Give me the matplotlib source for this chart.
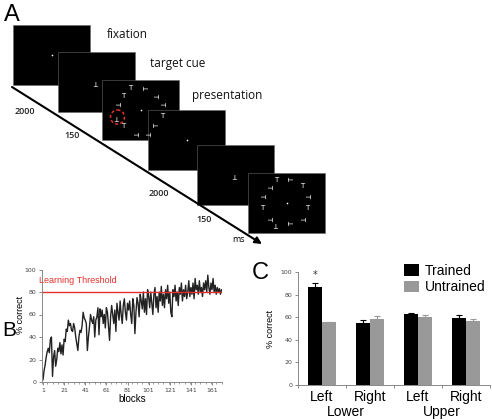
import matplotlib.pyplot as plt
from matplotlib.patches import Rectangle, Circle
from matplotlib.ticker import MultipleLocator

# panel B: percent correct per training block
blocks_pct = [
    2, 10, 15, 22, 27, 30, 26, 38, 40, 5,
    22, 28, 14, 20, 30, 27, 35, 25, 33, 24,
    38, 36, 47, 45, 55, 50, 52, 46, 45, 52,
    48, 40, 34, 28, 40, 46, 44, 50, 62, 57,
    55, 52, 28, 40, 49, 60, 55, 52, 58, 40,
    55, 58, 66, 42, 65, 58, 64, 52, 60, 48,
    66, 62, 50, 37, 58, 68, 60, 52, 64, 45,
    70, 62, 55, 72, 60, 52, 68, 74, 62, 55,
    70, 64, 72, 60, 52, 74, 68, 43, 62, 75,
    70, 58, 78, 72, 65, 80, 62, 74, 60, 82,
    76, 66, 80, 70, 60, 78, 84, 66, 76, 62,
    80, 72, 85, 68, 78, 66, 82, 74, 86, 70,
    80, 62, 58, 82, 76, 86, 72, 80, 68, 84,
    78, 88, 72, 82, 76, 86, 74, 80, 90, 76,
    84, 78, 88, 74, 92, 82, 86, 78, 90, 80,
    84, 76, 88, 82, 90, 80, 95, 84, 78, 88,
    82, 92, 80, 86, 78, 84, 80, 83, 78, 82,
]
threshold = 80
block_ticks = [1, 21, 41, 61, 81, 101, 121, 141, 161]

# panel C
quadrants = ["Left", "Right", "Left", "Right"]
fields = ["Lower", "Upper"]
trained = [87, 54.5, 63, 59.5]
trained_err = [3, 3, 0.5, 2.5]
untrained = [55.5, 58.5, 60, 56.5]
untrained_err = [0.5, 2.5, 2, 2]

# panel A timings
durations = ["2000", "150", "2000", "150"]
screen_names = ["fixation", "target cue", "presentation"]

fig = plt.figure(figsize=(4.92, 4.20), dpi=100)

# ---------- panel A: drawn in pixel coords on an overlay axes
axA = fig.add_axes([0, 0, 1, 1])
axA.set_xlim(0, 492)
axA.set_ylim(420, 0)
axA.axis("off")

screens = [(13, 25), (58, 52), (102, 80), (148, 110), (197, 145), (248, 173)]
sw, sh = 77, 60
for (x, y) in screens:
    axA.add_patch(Rectangle((x, y), sw, sh, facecolor="black", edgecolor="#666", lw=0.4))

# search array: (dx, dy, rotation)
array1 = [(-10, -22, 0), (7, -21, 90), (-17, -14, 0), (15, -15, 270),
          (-23, -7, 270), (22, -7, 270), (-23, 7, 180), (22, 6, 0),
          (-17, 16, 0), (17, 16, 90), (-5, 23, 270), (7, 23, 270)]
array2 = [(-10, -23, 0), (6, -23, 90), (-17, -17, 270), (16, -17, 0),
          (-24, -8, 270), (21, -8, 270), (-24, 5, 0), (21, 5, 0),
          (-17, 15, 270), (16, 15, 270), (-10, 21, 180), (6, 21, 90)]

def center(i):
    x, y = screens[i]
    return x + sw / 2, y + sh / 2

def dot(i):
    cx, cy = center(i)
    axA.plot(cx, cy, "o", color="white", ms=1.2, mec="none")

def cue(i):
    cx, cy = center(i)
    axA.text(cx, cy, "T", rotation=180, color="white", fontsize=5,
             ha="center", va="center")

def search(i, arr):
    cx, cy = center(i)
    dot(i)
    for dx, dy, r in arr:
        axA.text(cx + dx, cy + dy, "T", rotation=r, color="white", fontsize=5,
                 ha="center", va="center")

dot(0)
cue(1)
search(2, array1)
c2 = center(2)
axA.add_patch(Circle((c2[0] - 23, c2[1] + 7), 7, fill=False, edgecolor="#e0302a",
                     ls=(0, (2, 1.5)), lw=1.1))
dot(3)
cue(4)
search(5, array2)

axA.annotate("", xy=(262, 244), xytext=(12, 87),
             arrowprops=dict(arrowstyle="-|>", color="black", lw=1.5,
                             mutation_scale=10, shrinkA=0, shrinkB=0))

for name, (x, y) in zip(screen_names, [(107, 34), (150, 64), (192, 95)]):
    axA.text(x, y, name, fontsize=8.5, family="Open Sans", ha="left", va="center",
             color="#111")
for lab, (x, y) in zip(durations, [(25, 111), (72, 136), (159, 193), (204, 219)]):
    axA.text(x, y, lab, fontsize=6.5, family="Open Sans", ha="center", va="center",
             color="#222", fontweight="semibold")
axA.text(239, 240, "ms", fontsize=6.5, family="Open Sans", ha="center", va="center")

axA.text(4, 15, "A", fontsize=17, family="Liberation Sans", ha="left", va="center")
axA.text(2, 331, "B", fontsize=15, family="Liberation Sans", ha="left", va="center")
axA.text(252, 273, "C", fontsize=17, family="Liberation Sans", ha="left", va="center")

# ---------- panel B
axB = fig.add_axes([41.94 / 492, 1 - 382 / 420, 179.6 / 492, 112.5 / 420])
x = list(range(1, len(blocks_pct) + 1))
axB.plot(x, blocks_pct, color="#222", lw=1.0)
axB.axhline(threshold, color="#e0302a", lw=1.0)
axB.text(-3, threshold + 10, "Learning Threshold", color="#e0302a", fontsize=6.5,
         family="Liberation Sans", va="center")
axB.set_xlim(0, 170)
axB.set_ylim(0, 100)
axB.set_xticks(block_ticks)
axB.xaxis.set_minor_locator(MultipleLocator(5))
axB.set_yticks([0, 20, 40, 60, 80, 100])
axB.tick_params(labelsize=4.5, labelcolor="#444", color="#777", length=2, width=0.6, pad=2)
axB.tick_params(which="minor", length=1.5, width=0.5, color="#777")
for s in ["top", "right"]:
    axB.spines[s].set_visible(False)
for s in ["left", "bottom"]:
    axB.spines[s].set_color("#888")
    axB.spines[s].set_linewidth(0.7)
axB.set_xlabel("blocks", fontsize=7, family="Liberation Sans", labelpad=1)
axB.set_ylabel("% correct", fontsize=6.5, family="Liberation Sans", labelpad=1)
axB.yaxis.set_label_coords(-0.095, 0.6)

# ---------- panel C
axC = fig.add_axes([298 / 492, 1 - 385 / 420, 192 / 492, 113 / 420])
pos = [0, 1, 2, 3]
w = 0.29
axC.bar([p - w / 2 for p in pos], trained, w, color="black", label="Trained",
        yerr=[[0] * 4, trained_err], ecolor="black",
        error_kw=dict(capsize=2.5, elinewidth=0.8, capthick=0.8))
axC.bar([p + w / 2 for p in pos], untrained, w, color="#999999", label="Untrained",
        yerr=[[0] * 4, untrained_err], ecolor="#999999",
        error_kw=dict(capsize=2.5, elinewidth=0.8, capthick=0.8))
axC.text(-w / 2, trained[0] + trained_err[0] + 7, "*", ha="center", va="center",
         fontsize=7, color="#333")
axC.set_xlim(-0.5, 3.5)
axC.set_ylim(0, 100)
axC.set_yticks([0, 20, 40, 60, 80, 100])
axC.set_xticks([-0.5, 0.5, 1.5, 2.5, 3.5])
axC.set_xticklabels([])
axC.tick_params(labelsize=4.5, labelcolor="#444", color="#777", length=2, width=0.6, pad=2)
for s in ["top", "right"]:
    axC.spines[s].set_visible(False)
for s in ["left", "bottom"]:
    axC.spines[s].set_color("#888")
    axC.spines[s].set_linewidth(0.7)
axC.set_ylabel("% correct", fontsize=6.5, family="Liberation Sans", labelpad=4)
for p, q in zip(pos, quadrants):
    axC.text(p, -11, q, ha="center", va="center", fontsize=10, family="Liberation Sans",
             clip_on=False)
for p, f in zip([0.5, 2.5], fields):
    axC.text(p, -24, f, ha="center", va="center", fontsize=10, family="Liberation Sans",
             clip_on=False)
axC.legend(loc="upper left", bbox_to_anchor=(404 / 492, 1 - 264 / 420),
           bbox_transform=fig.transFigure, frameon=False,
           prop={"family": "Liberation Sans", "size": 10},
           handlelength=1.1, handleheight=0.9, handletextpad=0.4, labelspacing=0.15,
           borderpad=0, borderaxespad=0)

fig.savefig("out.png", dpi=100)
